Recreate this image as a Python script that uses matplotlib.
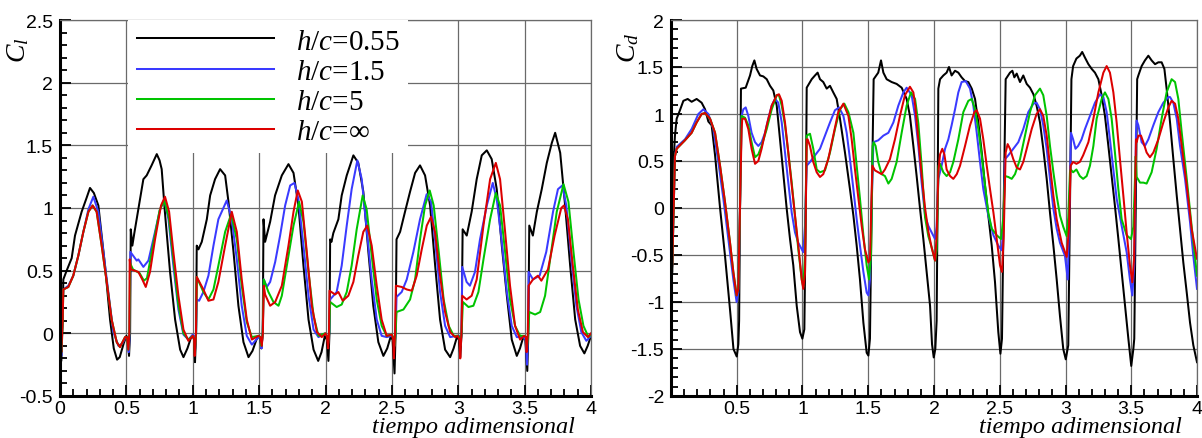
import numpy as np
import matplotlib
matplotlib.use('Agg')
import matplotlib.pyplot as plt
from matplotlib.ticker import MultipleLocator, FixedLocator

plt.rcParams['font.family'] = ['Liberation Sans', 'DejaVu Sans']
plt.rcParams['mathtext.fontset'] = 'custom'
plt.rcParams['mathtext.rm'] = 'Liberation Serif'
plt.rcParams['mathtext.it'] = 'Liberation Serif:italic'

# (tiempo, C_l)
cl_h055 = [(0.000,-0.05),(0.010,-0.22),(0.020,0.10),(0.025,0.43),(0.050,0.50),(0.088,0.60),(0.113,0.78),(0.163,0.97),(0.200,1.08),(0.226,1.16),(0.255,1.12),(0.289,1.02),(0.339,0.54),(0.377,0.11),(0.405,-0.12),(0.430,-0.21),(0.450,-0.19),(0.480,-0.08),(0.500,-0.02),(0.510,-0.04),(0.520,-0.18),(0.528,0.00),(0.533,0.83),
           (0.545,0.70),(0.560,0.80),(0.600,1.05),(0.628,1.23),(0.653,1.26),(0.690,1.34),(0.729,1.43),(0.750,1.38),(0.766,1.31),(0.790,0.97),(0.829,0.49),(0.867,0.11),(0.905,-0.13),(0.930,-0.19),(0.960,-0.12),(0.985,-0.04),(1.000,-0.02),(1.010,-0.05),(1.017,-0.23),(1.025,0.00),(1.030,0.70),
           (1.043,0.67),(1.068,0.73),(1.106,0.91),(1.131,1.10),(1.168,1.23),(1.206,1.31),(1.244,1.26),(1.269,1.05),(1.307,0.65),(1.344,0.22),(1.382,-0.07),(1.420,-0.19),(1.450,-0.14),(1.480,-0.05),(1.497,-0.02),(1.510,-0.05),(1.517,-0.12),(1.527,0.00),(1.533,0.91),
           (1.545,0.73),(1.583,0.89),(1.620,1.10),(1.671,1.26),(1.721,1.35),(1.759,1.28),(1.796,1.02),(1.834,0.54),(1.872,0.11),(1.910,-0.13),(1.945,-0.22),(1.970,-0.15),(1.995,-0.02),(2.010,-0.05),(2.022,-0.22),(2.030,0.00),(2.035,0.75),
           (2.045,0.73),(2.059,0.80),(2.097,0.91),(2.122,1.10),(2.160,1.26),(2.210,1.42),(2.247,1.36),(2.285,1.13),(2.323,0.65),(2.360,0.22),(2.398,-0.07),(2.436,-0.18),(2.465,-0.12),(2.490,-0.03),(2.505,-0.05),(2.520,-0.32),(2.528,0.00),(2.535,0.75),
           (2.562,0.81),(2.599,0.97),(2.637,1.13),(2.675,1.28),(2.712,1.34),(2.750,1.26),(2.788,1.02),(2.826,0.54),(2.863,0.11),(2.901,-0.13),(2.939,-0.19),(2.965,-0.12),(2.990,-0.03),(3.005,-0.05),(3.015,-0.19),(3.025,0.00),(3.033,0.83),
           (3.064,0.78),(3.101,0.97),(3.139,1.23),(3.177,1.42),(3.215,1.46),(3.252,1.39),(3.290,1.15),(3.328,0.70),(3.366,0.30),(3.403,-0.05),(3.441,-0.18),(3.465,-0.12),(3.490,-0.03),(3.505,-0.05),(3.520,-0.30),(3.528,0.00),(3.535,0.86),
           (3.562,0.78),(3.592,0.97),(3.629,1.15),(3.667,1.36),(3.705,1.52),(3.730,1.60),(3.768,1.44),(3.805,1.02),(3.843,0.54),(3.881,0.11),(3.918,-0.10),(3.950,-0.16),(3.975,-0.10),(4.000,-0.02)]

cl_h15 = [(0.000,-0.05),(0.010,-0.18),(0.020,0.20),(0.025,0.35),(0.063,0.38),(0.100,0.46),(0.138,0.62),(0.176,0.81),(0.214,0.99),(0.251,1.09),(0.289,0.97),(0.327,0.65),(0.364,0.33),(0.402,0.01),(0.440,-0.10),(0.470,-0.08),(0.495,-0.03),(0.510,-0.04),(0.518,-0.15),(0.525,0.00),(0.530,0.65),
          (0.578,0.58),(0.590,0.59),(0.628,0.53),(0.666,0.58),(0.716,0.81),(0.754,0.99),(0.786,1.07),(0.817,0.91),(0.854,0.54),(0.892,0.19),(0.930,-0.01),(0.967,-0.05),(1.000,-0.01),(1.010,-0.02),(1.018,-0.12),(1.025,0.00),(1.030,0.27),
          (1.048,0.26),(1.080,0.33),(1.118,0.46),(1.156,0.70),(1.193,0.91),(1.256,1.06),(1.294,0.91),(1.332,0.59),(1.369,0.22),(1.407,-0.02),(1.445,-0.09),(1.495,-0.03),(1.510,-0.03),(1.518,-0.12),(1.527,0.00),(1.535,0.43),
          (1.558,0.37),(1.583,0.41),(1.621,0.57),(1.658,0.78),(1.696,1.02),(1.734,1.18),(1.766,1.20),(1.796,1.07),(1.834,0.70),(1.872,0.30),(1.910,0.03),(1.947,-0.03),(1.997,0.00),(2.010,-0.02),(2.020,-0.08),(2.028,0.00),(2.035,0.27),
          (2.084,0.33),(2.122,0.54),(2.160,0.86),(2.197,1.15),(2.240,1.38),(2.273,1.23),(2.310,0.83),(2.348,0.43),(2.386,0.11),(2.423,-0.02),(2.461,-0.03),(2.499,-0.02),(2.510,-0.03),(2.520,-0.10),(2.528,0.00),(2.535,0.29),
          (2.574,0.33),(2.612,0.43),(2.662,0.65),(2.712,0.91),(2.762,1.11),(2.795,1.05),(2.825,0.75),(2.863,0.33),(2.901,0.06),(2.939,-0.03),(2.989,-0.02),(3.008,-0.02),(3.015,-0.10),(3.025,0.00),(3.030,0.53),
          (3.063,0.41),(3.088,0.38),(3.126,0.49),(3.164,0.75),(3.215,1.02),(3.260,1.20),(3.290,1.07),(3.328,0.73),(3.366,0.33),(3.403,0.06),(3.441,-0.03),(3.491,-0.03),(3.508,-0.05),(3.518,-0.25),(3.526,0.00),(3.530,0.49),
          (3.563,0.43),(3.613,0.46),(3.663,0.65),(3.714,0.97),(3.751,1.15),(3.784,1.18),(3.814,1.02),(3.852,0.59),(3.890,0.22),(3.927,0.01),(3.965,-0.06),(4.000,-0.02)]

cl_h5 = [(0.000,-0.05),(0.010,-0.15),(0.020,0.10),(0.025,0.35),(0.063,0.37),(0.100,0.46),(0.138,0.62),(0.176,0.81),(0.214,0.97),(0.246,1.02),(0.276,0.97),(0.314,0.70),(0.352,0.41),(0.389,0.11),(0.427,-0.07),(0.452,-0.11),(0.490,-0.03),(0.505,-0.03),(0.515,-0.13),(0.523,0.00),(0.528,0.56),
         (0.550,0.51),(0.600,0.48),(0.632,0.42),(0.655,0.44),(0.700,0.70),(0.750,0.98),(0.785,1.06),(0.820,0.92),(0.855,0.58),(0.890,0.24),(0.930,0.00),(0.967,-0.05),(1.000,-0.02),(1.010,-0.04),(1.016,-0.15),(1.025,0.00),(1.030,0.45),
         (1.080,0.33),(1.118,0.27),(1.156,0.35),(1.193,0.54),(1.244,0.81),(1.289,0.95),(1.332,0.75),(1.369,0.38),(1.407,0.09),(1.445,-0.03),(1.495,-0.02),(1.510,-0.03),(1.518,-0.10),(1.527,0.00),(1.535,0.43),
         (1.570,0.33),(1.608,0.25),(1.646,0.22),(1.671,0.30),(1.709,0.54),(1.759,0.86),(1.801,1.05),(1.834,0.89),(1.872,0.49),(1.910,0.14),(1.947,-0.02),(1.997,0.00),(2.010,-0.02),(2.020,-0.08),(2.028,0.00),(2.035,0.25),
         (2.084,0.21),(2.122,0.23),(2.160,0.33),(2.197,0.54),(2.235,0.83),(2.280,1.10),(2.310,0.99),(2.348,0.62),(2.386,0.27),(2.423,0.06),(2.461,-0.02),(2.499,-0.01),(2.510,-0.03),(2.520,-0.10),(2.528,0.00),(2.535,0.17),
         (2.587,0.19),(2.637,0.27),(2.675,0.43),(2.712,0.75),(2.750,1.02),(2.785,1.14),(2.815,1.02),(2.853,0.65),(2.890,0.27),(2.928,0.06),(2.966,-0.02),(2.996,-0.02),(3.010,-0.03),(3.015,-0.10),(3.025,0.00),(3.035,0.25),
         (3.077,0.21),(3.114,0.22),(3.152,0.33),(3.190,0.59),(3.240,0.91),(3.283,1.12),(3.315,1.02),(3.353,0.65),(3.390,0.27),(3.428,0.06),(3.466,-0.02),(3.496,-0.02),(3.510,-0.03),(3.518,-0.12),(3.527,0.00),(3.535,0.17),
         (3.579,0.15),(3.617,0.17),(3.654,0.30),(3.692,0.59),(3.742,0.97),(3.793,1.19),(3.830,1.05),(3.868,0.65),(3.906,0.27),(3.943,0.06),(3.981,-0.03),(4.000,-0.01)]

cl_hinf = [(0.000,-0.05),(0.010,-0.15),(0.020,0.10),(0.025,0.35),(0.063,0.37),(0.100,0.46),(0.138,0.62),(0.176,0.81),(0.214,0.97),(0.246,1.02),(0.276,0.97),(0.314,0.70),(0.352,0.41),(0.389,0.11),(0.427,-0.07),(0.452,-0.11),(0.490,-0.03),(0.505,-0.03),(0.515,-0.13),(0.522,0.00),(0.525,0.59),
           (0.535,0.51),(0.590,0.49),(0.620,0.43),(0.646,0.37),(0.678,0.49),(0.716,0.75),(0.761,1.02),(0.791,1.09),(0.822,0.97),(0.854,0.65),(0.892,0.30),(0.930,0.03),(0.967,-0.06),(1.000,-0.02),(1.010,-0.05),(1.015,-0.18),(1.024,0.00),(1.030,0.45),
           (1.080,0.35),(1.118,0.26),(1.156,0.27),(1.193,0.41),(1.244,0.70),(1.294,0.97),(1.332,0.81),(1.369,0.43),(1.407,0.11),(1.445,-0.05),(1.495,-0.02),(1.510,-0.03),(1.520,-0.10),(1.528,0.00),(1.535,0.38),
           (1.545,0.31),(1.583,0.22),(1.621,0.25),(1.671,0.38),(1.721,0.70),(1.759,0.97),(1.791,1.14),(1.822,1.05),(1.859,0.65),(1.897,0.22),(1.935,0.01),(1.972,-0.03),(2.000,0.00),(2.010,-0.02),(2.020,-0.12),(2.026,0.00),(2.030,0.34),
           (2.072,0.31),(2.097,0.33),(2.130,0.26),(2.172,0.30),(2.210,0.41),(2.247,0.62),(2.285,0.81),(2.315,0.86),(2.348,0.70),(2.386,0.38),(2.423,0.11),(2.461,-0.02),(2.499,-0.01),(2.510,-0.05),(2.515,-0.20),(2.524,0.00),(2.530,0.38),
           (2.574,0.37),(2.612,0.35),(2.650,0.34),(2.687,0.46),(2.725,0.67),(2.763,0.86),(2.795,0.93),(2.825,0.81),(2.863,0.46),(2.901,0.17),(2.939,0.01),(2.977,-0.03),(2.995,-0.02),(3.010,-0.05),(3.015,-0.20),(3.024,0.00),(3.030,0.30),
           (3.063,0.27),(3.101,0.30),(3.139,0.43),(3.190,0.86),(3.240,1.23),(3.283,1.36),(3.315,1.23),(3.353,0.81),(3.390,0.38),(3.428,0.06),(3.466,-0.05),(3.496,-0.02),(3.510,-0.03),(3.515,-0.15),(3.524,0.00),(3.530,0.38),
           (3.563,0.43),(3.600,0.46),(3.626,0.42),(3.676,0.51),(3.726,0.78),(3.776,1.00),(3.796,1.02),(3.826,0.91),(3.863,0.54),(3.901,0.19),(3.939,0.01),(3.977,-0.03),(4.000,0.00)]

# (tiempo, C_d)
cd_h055 = [(0.000,-0.75),(0.010,-0.68),(0.020,0.50),(0.030,0.77),(0.043,0.95),(0.068,1.04),(0.094,1.14),(0.127,1.16),(0.157,1.13),(0.195,1.16),(0.233,1.12),(0.259,1.05),(0.284,0.92),(0.309,0.88),(0.335,0.56),(0.373,0.00),(0.410,-0.50),(0.450,-1.10),(0.475,-1.50),(0.500,-1.58),(0.512,-1.45),(0.518,-1.20),(0.525,0.00),(0.532,1.27),
           (0.568,1.28),(0.601,1.41),(0.618,1.51),(0.634,1.57),(0.651,1.48),(0.677,1.41),(0.702,1.40),(0.728,1.37),(0.753,1.30),(0.778,1.25),(0.804,1.09),(0.829,0.73),(0.854,0.38),(0.880,-0.01),(0.905,-0.33),(0.930,-0.61),(0.956,-1.04),(0.981,-1.32),(0.999,-1.39),(1.014,-1.29),(1.025,0.00),(1.032,1.28),
           (1.070,1.37),(1.095,1.41),(1.115,1.44),(1.133,1.37),(1.158,1.34),(1.184,1.27),(1.209,1.30),(1.234,1.23),(1.260,1.16),(1.285,0.95),(1.323,0.59),(1.361,0.20),(1.387,-0.08),(1.412,-0.40),(1.437,-0.76),(1.463,-1.22),(1.488,-1.54),(1.501,-1.57),(1.513,-1.39),(1.526,0.02),(1.541,1.37),
           (1.576,1.44),(1.597,1.57),(1.615,1.44),(1.640,1.37),(1.678,1.34),(1.716,1.32),(1.754,1.28),(1.792,1.16),(1.817,0.98),(1.843,0.66),(1.868,0.34),(1.894,-0.01),(1.919,-0.33),(1.944,-0.68),(1.970,-1.04),(1.985,-1.45),(1.998,-1.59),(2.010,-1.50),(2.020,-1.20),(2.028,0.20),(2.033,1.27),
           (2.046,1.37),(2.071,1.41),(2.096,1.44),(2.114,1.50),(2.134,1.41),(2.160,1.46),(2.185,1.44),(2.210,1.39),(2.236,1.35),(2.261,1.34),(2.287,1.27),(2.312,1.16),(2.337,0.91),(2.363,0.59),(2.388,0.24),(2.413,-0.08),(2.439,-0.40),(2.464,-0.79),(2.489,-1.32),(2.505,-1.55),(2.517,-1.39),(2.530,0.02),(2.545,1.37),
           (2.578,1.44),(2.596,1.46),(2.611,1.39),(2.629,1.43),(2.654,1.34),(2.679,1.41),(2.705,1.32),(2.730,1.28),(2.756,1.21),(2.780,1.09),(2.806,0.91),(2.831,0.63),(2.857,0.31),(2.882,-0.05),(2.908,-0.40),(2.933,-0.76),(2.958,-1.15),(2.983,-1.50),(3.002,-1.61),(3.021,-1.46),(3.034,0.02),(3.045,1.37),
           (3.058,1.51),(3.083,1.59),(3.109,1.62),(3.127,1.66),(3.148,1.60),(3.174,1.53),(3.199,1.48),(3.224,1.44),(3.250,1.37),(3.275,1.20),(3.300,0.98),(3.326,0.66),(3.351,0.34),(3.376,0.02),(3.402,-0.33),(3.427,-0.68),(3.452,-1.04),(3.478,-1.39),(3.500,-1.68),(3.516,-1.50),(3.523,-1.39),(3.534,0.02),(3.545,1.37),
           (3.554,1.41),(3.579,1.51),(3.604,1.57),(3.630,1.62),(3.655,1.57),(3.681,1.53),(3.706,1.55),(3.731,1.55),(3.752,1.48),(3.769,1.27),(3.795,0.91),(3.820,0.52),(3.846,0.13),(3.871,-0.22),(3.896,-0.58),(3.922,-0.90),(3.947,-1.22),(3.972,-1.46),(4.000,-1.64)]

cd_h15 = [(0.000,-0.75),(0.010,-0.60),(0.030,0.55),(0.043,0.65),(0.106,0.73),(0.157,0.84),(0.208,1.00),(0.246,1.05),(0.284,1.00),(0.322,0.84),(0.360,0.49),(0.398,0.10),(0.436,-0.33),(0.474,-0.76),(0.499,-1.00),(0.512,-0.90),(0.525,0.02),(0.537,0.98),
          (0.550,1.05),(0.568,1.07),(0.588,0.98),(0.613,0.80),(0.639,0.70),(0.664,0.66),(0.689,0.70),(0.715,0.80),(0.740,0.95),(0.766,1.09),(0.791,1.16),(0.816,1.12),(0.842,0.91),(0.867,0.59),(0.892,0.27),(0.918,-0.05),(0.943,-0.26),(0.968,-0.37),(0.994,-0.44),(1.006,-0.47),(1.019,-0.19),(1.032,0.45),
          (1.057,0.49),(1.095,0.56),(1.133,0.63),(1.171,0.77),(1.209,0.91),(1.247,1.04),(1.278,1.07),(1.311,0.98),(1.336,0.80),(1.361,0.52),(1.387,0.20),(1.412,-0.12),(1.437,-0.40),(1.463,-0.68),(1.488,-0.90),(1.501,-0.93),(1.513,-0.76),(1.526,0.02),(1.539,0.70),
          (1.576,0.72),(1.615,0.77),(1.653,0.80),(1.691,0.91),(1.729,1.09),(1.767,1.23),(1.792,1.28),(1.830,1.20),(1.856,0.98),(1.881,0.66),(1.906,0.27),(1.932,-0.08),(1.957,-0.19),(1.982,-0.26),(2.008,-0.33),(2.020,-0.20),(2.033,0.31),
          (2.058,0.45),(2.084,0.63),(2.109,0.73),(2.134,0.88),(2.160,1.05),(2.185,1.23),(2.210,1.34),(2.241,1.35),(2.274,1.27),(2.299,1.09),(2.325,0.80),(2.350,0.49),(2.375,0.20),(2.413,-0.08),(2.452,-0.29),(2.489,-0.40),(2.515,-0.45),(2.527,-0.20),(2.540,0.52),
          (2.565,0.56),(2.603,0.63),(2.641,0.70),(2.679,0.84),(2.717,1.02),(2.756,1.11),(2.780,1.12),(2.806,1.05),(2.831,0.88),(2.857,0.63),(2.882,0.31),(2.908,-0.01),(2.933,-0.22),(2.958,-0.37),(2.996,-0.51),(3.017,-0.76),(3.027,-0.20),(3.042,0.80),
          (3.058,0.73),(3.076,0.63),(3.096,0.66),(3.122,0.73),(3.148,0.84),(3.186,0.98),(3.224,1.12),(3.262,1.21),(3.288,1.18),(3.313,1.02),(3.338,0.73),(3.364,0.41),(3.389,0.10),(3.427,-0.19),(3.465,-0.47),(3.490,-0.76),(3.508,-0.93),(3.523,-0.60),(3.536,0.80),
          (3.541,0.93),(3.554,0.88),(3.579,0.70),(3.604,0.66),(3.630,0.73),(3.668,0.88),(3.706,1.02),(3.744,1.12),(3.782,1.18),(3.795,1.18),(3.820,1.12),(3.846,0.95),(3.871,0.66),(3.909,0.31),(3.947,-0.15),(3.972,-0.51),(4.000,-0.86)]

cd_h5 = [(0.000,-0.75),(0.010,-0.60),(0.030,0.55),(0.043,0.63),(0.106,0.72),(0.157,0.80),(0.195,0.91),(0.233,1.00),(0.259,1.01),(0.297,0.95),(0.335,0.80),(0.373,0.45),(0.411,0.06),(0.449,-0.37),(0.474,-0.68),(0.499,-0.93),(0.512,-0.86),(0.525,0.02),(0.537,0.98),
         (0.563,0.96),(0.588,0.88),(0.613,0.70),(0.639,0.54),(0.664,0.57),(0.689,0.66),(0.728,0.84),(0.766,1.05),(0.804,1.20),(0.821,1.20),(0.842,1.09),(0.867,0.88),(0.892,0.59),(0.918,0.27),(0.943,-0.08),(0.968,-0.44),(0.994,-0.76),(1.006,-0.84),(1.019,-0.50),(1.032,0.77),
         (1.057,0.79),(1.082,0.63),(1.108,0.41),(1.133,0.38),(1.171,0.40),(1.209,0.59),(1.247,0.84),(1.285,1.05),(1.318,1.11),(1.349,1.02),(1.387,0.80),(1.412,0.45),(1.437,0.10),(1.463,-0.29),(1.488,-0.61),(1.506,-0.76),(1.521,-0.50),(1.534,0.66),
         (1.541,0.70),(1.556,0.66),(1.576,0.49),(1.602,0.36),(1.627,0.34),(1.653,0.26),(1.678,0.31),(1.716,0.49),(1.754,0.80),(1.792,1.09),(1.825,1.23),(1.856,1.16),(1.881,0.90),(1.906,0.45),(1.932,-0.10),(1.957,-0.30),(1.982,-0.42),(2.008,-0.56),(2.020,-0.45),(2.035,0.45),
         (2.046,0.47),(2.071,0.38),(2.096,0.34),(2.122,0.38),(2.147,0.49),(2.185,0.73),(2.223,1.02),(2.261,1.14),(2.287,1.16),(2.312,1.05),(2.337,0.84),(2.363,0.56),(2.388,0.24),(2.413,-0.05),(2.439,-0.22),(2.477,-0.29),(2.510,-0.33),(2.527,-0.10),(2.540,0.34),
         (2.565,0.33),(2.591,0.31),(2.616,0.36),(2.654,0.52),(2.692,0.77),(2.730,1.02),(2.768,1.20),(2.806,1.27),(2.831,1.20),(2.857,0.98),(2.882,0.66),(2.908,0.38),(2.933,0.13),(2.958,-0.08),(2.983,-0.20),(3.009,-0.30),(3.021,-0.10),(3.034,0.38),
         (3.039,0.41),(3.058,0.38),(3.083,0.41),(3.109,0.34),(3.134,0.31),(3.161,0.34),(3.186,0.45),(3.212,0.66),(3.237,0.95),(3.275,1.16),(3.300,1.23),(3.326,1.16),(3.351,0.95),(3.376,0.59),(3.402,0.20),(3.427,-0.12),(3.465,-0.29),(3.498,-0.33),(3.516,-0.20),(3.534,0.55),
         (3.541,0.33),(3.567,0.27),(3.592,0.27),(3.617,0.26),(3.655,0.38),(3.693,0.63),(3.731,0.95),(3.769,1.23),(3.807,1.37),(3.833,1.34),(3.858,1.16),(3.884,0.80),(3.922,0.31),(3.959,-0.19),(4.000,-0.72)]

cd_hinf = [(0.000,-0.75),(0.010,-0.60),(0.030,0.55),(0.043,0.63),(0.106,0.72),(0.157,0.80),(0.195,0.91),(0.233,1.00),(0.259,1.01),(0.297,0.95),(0.335,0.80),(0.373,0.45),(0.411,0.06),(0.449,-0.37),(0.474,-0.68),(0.499,-0.93),(0.512,-0.86),(0.525,0.02),(0.537,0.84),
           (0.542,0.95),(0.563,0.95),(0.588,0.84),(0.613,0.63),(0.639,0.47),(0.664,0.50),(0.689,0.63),(0.728,0.88),(0.766,1.09),(0.804,1.20),(0.821,1.21),(0.842,1.14),(0.867,0.91),(0.892,0.59),(0.918,0.24),(0.943,-0.08),(0.968,-0.40),(0.994,-0.76),(1.006,-0.86),(1.019,-0.70),(1.032,0.73),
           (1.039,0.73),(1.057,0.66),(1.082,0.49),(1.108,0.38),(1.133,0.33),(1.158,0.36),(1.196,0.52),(1.234,0.77),(1.272,1.02),(1.311,1.11),(1.349,0.98),(1.374,0.73),(1.399,0.41),(1.425,0.10),(1.450,-0.19),(1.475,-0.44),(1.501,-0.58),(1.513,-0.55),(1.531,0.45),
           (1.539,0.43),(1.551,0.40),(1.576,0.38),(1.602,0.36),(1.627,0.41),(1.665,0.52),(1.703,0.73),(1.741,0.98),(1.779,1.20),(1.817,1.29),(1.843,1.23),(1.856,1.10),(1.881,0.73),(1.906,0.35),(1.932,0.00),(1.957,-0.25),(1.982,-0.42),(2.008,-0.56),(2.020,-0.30),(2.033,0.38),
           (2.046,0.57),(2.063,0.63),(2.079,0.57),(2.096,0.41),(2.122,0.34),(2.147,0.31),(2.173,0.36),(2.198,0.45),(2.236,0.66),(2.274,0.88),(2.307,1.02),(2.325,1.04),(2.350,0.95),(2.375,0.73),(2.401,0.45),(2.426,0.20),(2.452,-0.05),(2.477,-0.33),(2.502,-0.61),(2.517,-0.68),(2.530,-0.30),(2.545,0.59),
           (2.560,0.68),(2.578,0.63),(2.603,0.52),(2.629,0.43),(2.654,0.41),(2.679,0.49),(2.705,0.63),(2.743,0.84),(2.780,1.00),(2.806,1.05),(2.831,0.98),(2.857,0.77),(2.882,0.45),(2.908,0.13),(2.933,-0.12),(2.971,-0.37),(3.009,-0.52),(3.027,-0.20),(3.039,0.45),
           (3.058,0.49),(3.083,0.47),(3.109,0.49),(3.134,0.56),(3.174,0.70),(3.212,0.95),(3.250,1.23),(3.288,1.44),(3.313,1.51),(3.338,1.44),(3.364,1.23),(3.389,0.91),(3.414,0.52),(3.440,0.13),(3.465,-0.26),(3.490,-0.61),(3.508,-0.79),(3.521,-0.55),(3.536,0.73),
           (3.541,0.70),(3.554,0.77),(3.574,0.77),(3.592,0.70),(3.617,0.59),(3.642,0.54),(3.668,0.59),(3.706,0.73),(3.744,0.91),(3.782,1.07),(3.807,1.14),(3.833,1.11),(3.858,0.95),(3.884,0.66),(3.922,0.24),(3.959,-0.22),(4.000,-0.54)]

labels = [r'$h/c$=0.55', r'$h/c$=1.5', r'$h/c$=5', r'$h/c$=∞']
colors = ['black', '#3a3aff', '#00c400', '#dc0000']

fig = plt.figure(figsize=(12.02, 4.39), dpi=100)
ax1 = fig.add_axes([60/1202, 42/439, 531/1202, 376/439])
ax2 = fig.add_axes([671/1202, 42/439, 526/1202, 376/439])


def style(ax, ylo, yhi, xticks):
    ax.set_xlim(0, 4)
    ax.set_ylim(ylo, yhi)
    ax.xaxis.set_major_locator(FixedLocator(xticks))
    ax.xaxis.set_minor_locator(MultipleLocator(0.1))
    ax.yaxis.set_major_locator(MultipleLocator(0.5))
    ax.yaxis.set_minor_locator(MultipleLocator(0.1))
    ax.xaxis.set_major_formatter(lambda v, p: '%g' % v)
    ax.yaxis.set_major_formatter(lambda v, p: '%g' % v)
    ax.tick_params(which='both', direction='in', top=False, right=False,
                   labelsize=14, width=1.3, color='black')
    ax.tick_params(axis='y', which='major', length=8, pad=5)
    ax.tick_params(axis='x', which='major', length=8, pad=3)
    ax.tick_params(which='minor', length=5)
    ax.grid(True, which='major', color='#6a6a6a', lw=0.9)
    ax.set_axisbelow(True)
    for s in ['left', 'bottom']:
        ax.spines[s].set_linewidth(2.2)
    for s in ['top', 'right']:
        ax.spines[s].set_linewidth(0.9)
        ax.spines[s].set_color('#6a6a6a')


for ax, series in [(ax1, [cl_h055, cl_h15, cl_h5, cl_hinf]),
                   (ax2, [cd_h055, cd_h15, cd_h5, cd_hinf])]:
    for s, c, lab in zip(series, colors, labels):
        t, v = np.array(s).T
        ax.plot(t, v, color=c, lw=1.45, label=lab)

style(ax1, -0.5, 2.5, np.arange(0, 4.01, 0.5))
style(ax2, -2, 2, np.arange(0.5, 4.01, 0.5))

leg = ax1.legend(loc='upper left', bbox_to_anchor=(0.129, 1.0), borderaxespad=0,
                 prop={'family': 'Liberation Serif', 'size': 21},
                 handlelength=4.7, handletextpad=0.75, labelspacing=0.13,
                 borderpad=0.28, fancybox=False, framealpha=1, edgecolor='none')
leg.set_zorder(5)

fig.text(18/1202, 1 - 50/439, r'$C_l$', rotation=90, ha='center', va='center', fontsize=20)
fig.text(628/1202, 1 - 48/439, r'$C_d$', rotation=90, ha='center', va='center', fontsize=20)
for xr in [575/1202, 1182/1202]:
    fig.text(xr, 1 - 433/439, 'tiempo adimensional', ha='right', va='baseline',
             family='Liberation Serif', style='italic', fontsize=17.5)

fig.savefig('out.png', dpi=100)
